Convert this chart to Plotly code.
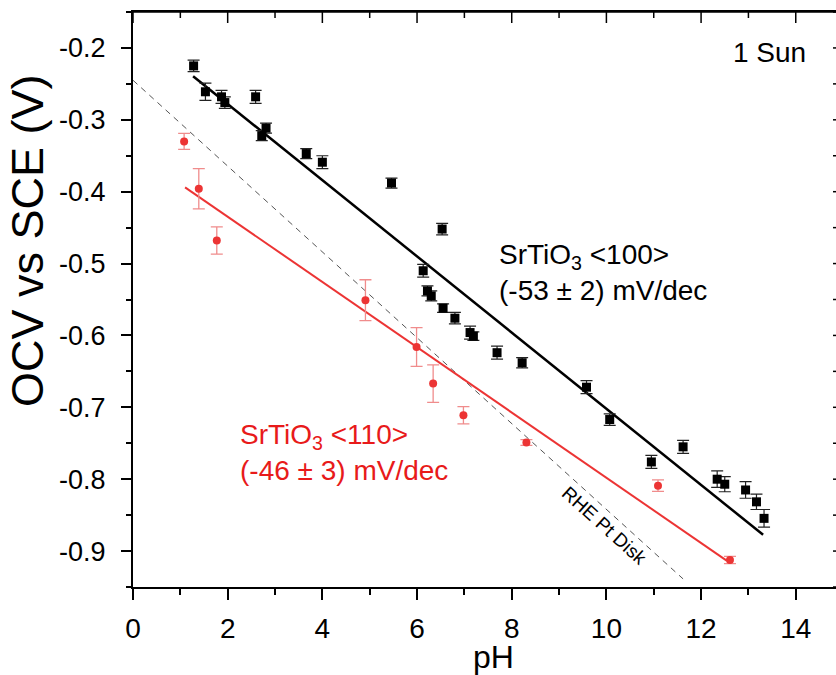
import plotly.graph_objects as go

# ---- data ----
ph_100 = [1.28, 1.53, 1.87, 1.94, 2.59, 2.72, 2.81, 3.66, 4.00, 5.46, 6.53, 6.13, 6.22, 6.30,
          6.55, 6.80, 7.12, 7.19, 7.69, 8.22, 9.58, 10.07, 10.95, 11.62, 12.34, 12.50, 12.94,
          13.17, 13.33]
ocv_100 = [-0.225, -0.261, -0.268, -0.276, -0.268, -0.322, -0.3115, -0.347, -0.359, -0.388,
           -0.452, -0.510, -0.538, -0.545, -0.562, -0.576, -0.596, -0.601, -0.624, -0.638,
           -0.672, -0.717, -0.776, -0.755, -0.800, -0.807, -0.815, -0.8315, -0.8545]
err_100 = [0.008, 0.012, 0.009, 0.008, 0.009, 0.007, 0.007, 0.007, 0.009, 0.007,
           0.008, 0.009, 0.007, 0.007, 0.006, 0.008, 0.009, 0.006, 0.009, 0.007,
           0.009, 0.008, 0.009, 0.009, 0.0115, 0.0105, 0.0115, 0.0107, 0.0123]

ph_110 = [1.08, 1.39, 1.77, 4.91, 5.99, 6.34, 6.98, 8.31, 11.09, 12.61]
ocv_110 = [-0.330, -0.396, -0.468, -0.551, -0.616, -0.667, -0.711, -0.749, -0.809, -0.9125]
err_110 = [0.011, 0.028, 0.019, 0.0285, 0.027, 0.026, 0.012, 0.004, 0.008, 0.005]

# linear fits (intercept, slope) and their pH extents
fit_100 = (-0.172, -0.053)
fit_100_ph = [1.27, 13.31]
fit_110 = (-0.344, -0.0454)
fit_110_ph = [1.10, 12.54]
rhe = (-0.245, -0.0597)
rhe_ph = [0.0, 11.62]

xtick_vals = [0, 2, 4, 6, 8, 10, 12, 14]
xtick_text = ["0", "2", "4", "6", "8", "10", "12", "14"]
ytick_vals = [-0.2, -0.3, -0.4, -0.5, -0.6, -0.7, -0.8, -0.9]
ytick_text = ["-0.2", "-0.3", "-0.4", "-0.5", "-0.6", "-0.7", "-0.8", "-0.9"]

FONT = "Arial, Liberation Sans, Helvetica, sans-serif"
RED = "#EC3434"
RED_TXT = "#E81A1A"
RED_ERR = "#F08C8C"

XR = [0, 14.85]
YR = [-0.95, -0.15]
PLOT_W, PLOT_H = 703, 575  # plot-area size in px (for tick lengths)


def line_y(fit, xs):
    return [fit[0] + fit[1] * x for x in xs]


fig = go.Figure()

# RHE reference (dashed)
fig.add_trace(go.Scatter(x=rhe_ph, y=line_y(rhe, rhe_ph), mode="lines",
                         line=dict(color="#555555", width=1, dash="6px,5px"),
                         showlegend=False, hoverinfo="skip"))
# fit lines
fig.add_trace(go.Scatter(x=fit_110_ph, y=line_y(fit_110, fit_110_ph), mode="lines",
                         line=dict(color=RED, width=2), showlegend=False))
fig.add_trace(go.Scatter(x=fit_100_ph, y=line_y(fit_100, fit_100_ph), mode="lines",
                         line=dict(color="black", width=2.5), showlegend=False))
# data
fig.add_trace(go.Scatter(x=ph_110, y=ocv_110, mode="markers",
                         marker=dict(symbol="circle", size=8, color=RED),
                         error_y=dict(type="data", array=err_110, color=RED_ERR,
                                      thickness=1.3, width=6),
                         showlegend=False))
fig.add_trace(go.Scatter(x=ph_100, y=ocv_100, mode="markers",
                         marker=dict(symbol="square", size=9, color="black"),
                         error_y=dict(type="data", array=err_100, color="#222222",
                                      thickness=1.2, width=6),
                         showlegend=False))

# frame top edge and inward ticks on the top and right edges (axis decoration)
x_minor = [v + 1 for v in xtick_vals if v + 1 < XR[1]]
y_minor = [round(v + 0.05, 3) for v in ytick_vals] + [YR[0]]
shapes = [dict(type="line", xref="paper", yref="paper", x0=-1.0 / PLOT_W, x1=1.0,
               y0=1.0 + 0.5 / PLOT_H, y1=1.0 + 0.5 / PLOT_H,
               line=dict(color="black", width=2.5), layer="above")]
for v, ln in [(t, 11) for t in xtick_vals] + [(t, 6) for t in x_minor]:
    shapes.append(dict(type="line", xref="x", yref="paper", x0=v, x1=v, y0=1.0,
                       y1=1.0 - ln / PLOT_H, line=dict(color="black", width=1.5),
                       layer="above"))
for v in ytick_vals + y_minor:
    shapes.append(dict(type="line", xref="paper", yref="y", x0=1.0, x1=1.0 - 3 / PLOT_W,
                       y0=v, y1=v, line=dict(color="black", width=1.5), layer="above"))

fig.update_layout(
    width=836, height=675,
    margin=dict(l=133, r=0, t=12, b=88),
    paper_bgcolor="white", plot_bgcolor="white",
    font=dict(family=FONT, color="black"),
    xaxis=dict(range=XR, showgrid=False, zeroline=False, showline=True, linewidth=2,
               linecolor="black", mirror=True, ticks="outside", ticklen=11, tickwidth=1.5,
               tickcolor="black", tickvals=xtick_vals, ticktext=xtick_text,
               tickfont=dict(size=28, family=FONT), ticklabelstandoff=4,
               minor=dict(ticks="outside", ticklen=6, tickwidth=1.5, tickcolor="black",
                          dtick=1, tick0=0)),
    yaxis=dict(range=YR, showgrid=False, zeroline=False, showline=True, linewidth=2,
               linecolor="black", ticks="outside", ticklen=10, tickwidth=1.5,
               tickcolor="black", tickvals=ytick_vals, ticktext=ytick_text,
               tickfont=dict(size=27, family=FONT), ticklabelstandoff=10,
               minor=dict(ticks="outside", ticklen=5, tickwidth=1.5, tickcolor="black",
                          dtick=0.05, tick0=-0.15)),
    shapes=shapes,
)

annotations = [
    dict(text="OCV vs SCE (V)", xref="paper", yref="paper", x=-0.151, y=0.603,
         textangle=-90, showarrow=False, font=dict(size=45, family=FONT),
         xanchor="center", yanchor="middle"),
    dict(text="pH", xref="paper", yref="paper", x=0.5135, y=-0.122,
         showarrow=False, font=dict(size=32, family=FONT),
         xanchor="center", yanchor="middle"),
    dict(text="1 Sun", xref="x", yref="y", x=13.45, y=-0.207, showarrow=False,
         font=dict(size=28, family=FONT), xanchor="center", yanchor="middle"),
    dict(text="SrTiO<sub>3</sub> &lt;100&gt;<br>(-53 ± 2) mV/dec", xref="x", yref="y",
         x=7.69, y=-0.513, showarrow=False, align="left",
         font=dict(size=28, family=FONT, color="black"), xanchor="left", yanchor="middle"),
    dict(text="SrTiO<sub>3</sub> &lt;110&gt;<br>(-46 ± 3) mV/dec", xref="x", yref="y",
         x=2.22, y=-0.763, showarrow=False, align="left",
         font=dict(size=28, family=FONT, color=RED_TXT), xanchor="left", yanchor="middle"),
    dict(text="RHE Pt Disk", xref="x", yref="y", x=9.95, y=-0.865, showarrow=False,
         textangle=42, font=dict(size=19, family=FONT), xanchor="center",
         yanchor="middle"),
]
fig.update_layout(annotations=annotations)

fig.write_html(
    "out.html",
    config={"displayModeBar": False},
    post_script="document.body.style.margin='0';document.body.style.overflow='hidden';",
)
